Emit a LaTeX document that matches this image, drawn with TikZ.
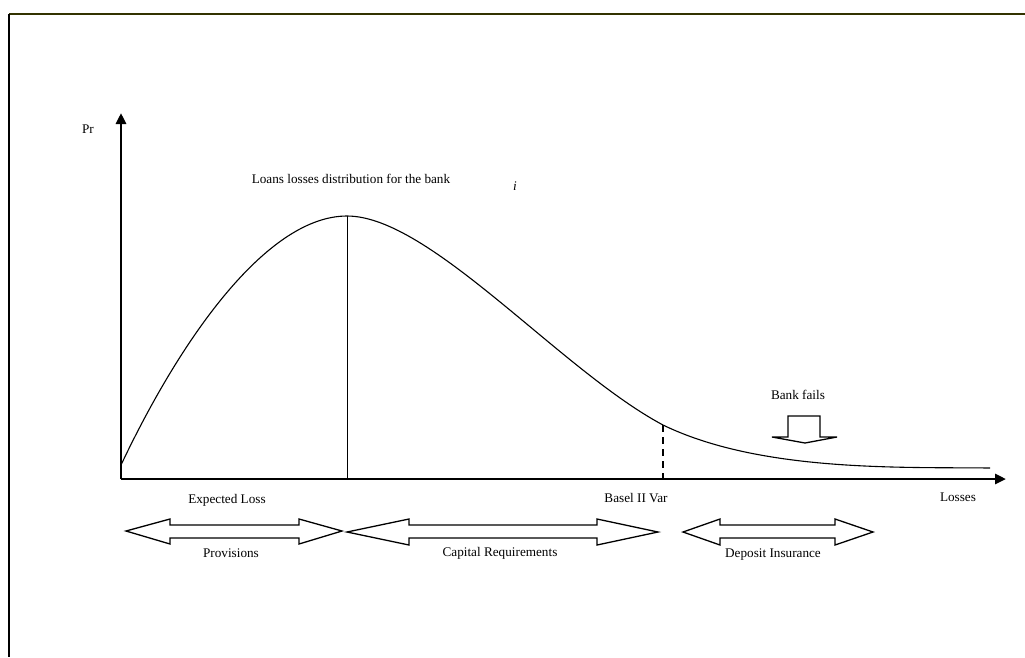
\documentclass[tikz,border=0pt]{standalone}
\usepackage{fontspec}
\setmainfont{Liberation Serif}
\usetikzlibrary{arrows.meta}
\begin{document}
\begin{tikzpicture}[x=1pt,y=-1pt,
  lbl/.style={inner sep=0pt,anchor=base,font=\fontsize{13.2}{15}\selectfont},
  axis/.style={line width=2.8pt,-{Triangle[length=11pt,width=10pt]}},
  dbl/.style={draw=black,line width=1.3pt,fill=white,line join=miter},
  curve/.style={line width=1.1pt}]
\useasboundingbox (0,0) rectangle (1025,657);
% frame
\draw[line width=1.6pt,color={rgb,255:red,51;green,51;blue,0}] (9,14) -- (1025,14);
\draw[line width=1.6pt] (9,14) -- (9,657);
% axes
\coordinate (O) at (121,479);
\coordinate (Ytip) at (121,113);
\coordinate (Xtip) at (1006,479);
\draw[axis] (O) -- (Ytip);
\draw[axis] (O) -- (Xtip);
% curve
\coordinate (c0) at (121,465);
\coordinate (peak) at (347,216);
\coordinate (var) at (663,425);
\coordinate (cend) at (990,468);
\coordinate (peakb) at (347,479);
\coordinate (varb) at (663,479);
\draw[curve] (c0) .. controls (185,330) and (270,216) .. (peak)
  .. controls (430,216) and (560,370) .. (var)
  .. controls (760,472) and (900,467) .. (cend);
\draw[line width=0.9pt] (peak) -- (peakb);
\draw[line width=1.8pt,dash pattern=on 7pt off 5pt] (var) -- (varb);
% double arrows
\draw[dbl] (126,531) -- (170,519) -- (170,525) -- (299,525) -- (299,519) -- (342,531)
  -- (299,544) -- (299,538) -- (170,538) -- (170,544) -- cycle;
\draw[dbl] (347,532) -- (409,519) -- (409,525) -- (597,525) -- (597,519) -- (658,532)
  -- (597,545) -- (597,538) -- (409,538) -- (409,545) -- cycle;
\draw[dbl] (683,532) -- (720,519) -- (720,525) -- (835,525) -- (835,519) -- (873,532)
  -- (835,545) -- (835,538) -- (720,538) -- (720,545) -- cycle;
% bank fails arrow
\draw[dbl] (788,416) -- (820,416) -- (820,437) -- (837,437) -- (805,443) -- (772,437)
  -- (788,437) -- cycle;
% labels
\node[lbl] (pr) at (88,133) {Pr};
\node[lbl] (title) at (351,183) {Loans losses distribution for the bank};
\node[lbl] (ii) at (515,190) {\itshape i};
\node[lbl] (el) at (227,503) {Expected Loss};
\node[lbl] (bv) at (636,502) {Basel II Var};
\node[lbl] (ls) at (958,501) {Losses};
\node[lbl] (pv) at (231,557) {Provisions};
\node[lbl] (cr) at (500,556) {Capital Requirements};
\node[lbl] (di) at (773,557) {Deposit Insurance};
\node[lbl] (bf) at (798,399) {Bank fails};
\end{tikzpicture}
\end{document}
